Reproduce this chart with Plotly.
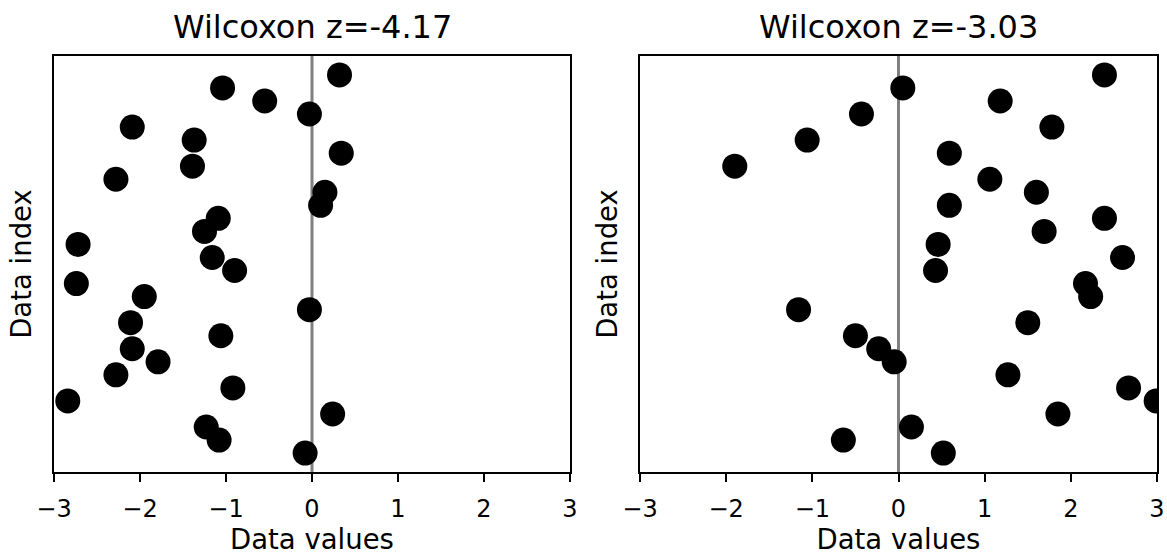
import plotly.graph_objects as go
from plotly.subplots import make_subplots

# Sample values per data index (index 0 at the bottom)
index = list(range(30))
values_a = [-0.08, -1.08, -1.23, 0.24, -2.84, -0.92, -2.28, -1.79, -2.09, -1.06,
            -2.11, -0.03, -1.95, -2.74, -0.90, -1.16, -2.72, -1.25, -1.09, 0.10,
            0.15, -2.28, -1.39, 0.34, -1.37, -2.09, -0.03, -0.55, -1.04, 0.32]
values_b = [0.52, -0.64, 0.15, 1.85, 2.99, 2.67, 1.27, -0.05, -0.23, -0.50,
            1.50, -1.16, 2.23, 2.17, 0.43, 2.60, 0.46, 1.69, 2.39, 0.59,
            1.60, 1.06, -1.90, 0.59, -1.06, 1.78, -0.43, 1.18, 0.05, 2.39]
titles = ["Wilcoxon z=-4.17", "Wilcoxon z=-3.03"]
tick_vals = [-3, -2, -1, 0, 1, 2, 3]
tick_text = ["\u22123", "\u22122", "\u22121", "0", "1", "2", "3"]

FONT = "DejaVu Sans"
W, H = 1167, 555
ML, MR, MT, MB = 54, 10, 56, 83
plot_w = W - ML - MR

fig = make_subplots(rows=1, cols=2)

for col, vals in enumerate([values_a, values_b], start=1):
    fig.add_trace(
        go.Scatter(
            x=vals, y=index, mode="markers",
            marker=dict(color="black", size=25, line=dict(width=0)),
            cliponaxis=True, showlegend=False, hoverinfo="x+y",
        ),
        row=1, col=col,
    )
    fig.add_vline(x=0, line=dict(color="#808080", width=3), layer="below",
                  row=1, col=col)

axis_common = dict(showline=True, mirror=True, linecolor="black", linewidth=2,
                   showgrid=False, zeroline=False, automargin=True)

left_dom = [0, 516 / plot_w]
right_dom = [586 / plot_w, 1]

for col, dom in [(1, left_dom), (2, right_dom)]:
    fig.update_xaxes(
        domain=dom, range=[-3, 3], tickvals=tick_vals, ticktext=tick_text,
        ticks="outside", ticklen=8, tickwidth=2, tickcolor="black",
        ticklabelstandoff=6,
        tickfont=dict(family=FONT, size=24, color="black"),
        title=dict(text="Data values", standoff=12,
                   font=dict(family=FONT, size=27.5, color="black")),
        **axis_common, row=1, col=col,
    )
    fig.update_yaxes(
        range=[-1.45, 30.45], showticklabels=False, ticks="",
        title=dict(text="Data index", standoff=12,
                   font=dict(family=FONT, size=27.5, color="black")),
        **axis_common, row=1, col=col,
    )

for dom, text in zip([left_dom, right_dom], titles):
    fig.add_annotation(
        text=text, xref="paper", yref="paper",
        x=(dom[0] + dom[1]) / 2, y=1, xanchor="center", yanchor="bottom",
        yshift=8, showarrow=False,
        font=dict(family=FONT, size=32, color="black"),
    )

fig.update_layout(
    width=W, height=H,
    margin=dict(l=ML, r=MR, t=MT, b=MB, autoexpand=False),
    paper_bgcolor="white", plot_bgcolor="white",
    font=dict(family=FONT, color="black"),
)

fig.write_html("out.html")
